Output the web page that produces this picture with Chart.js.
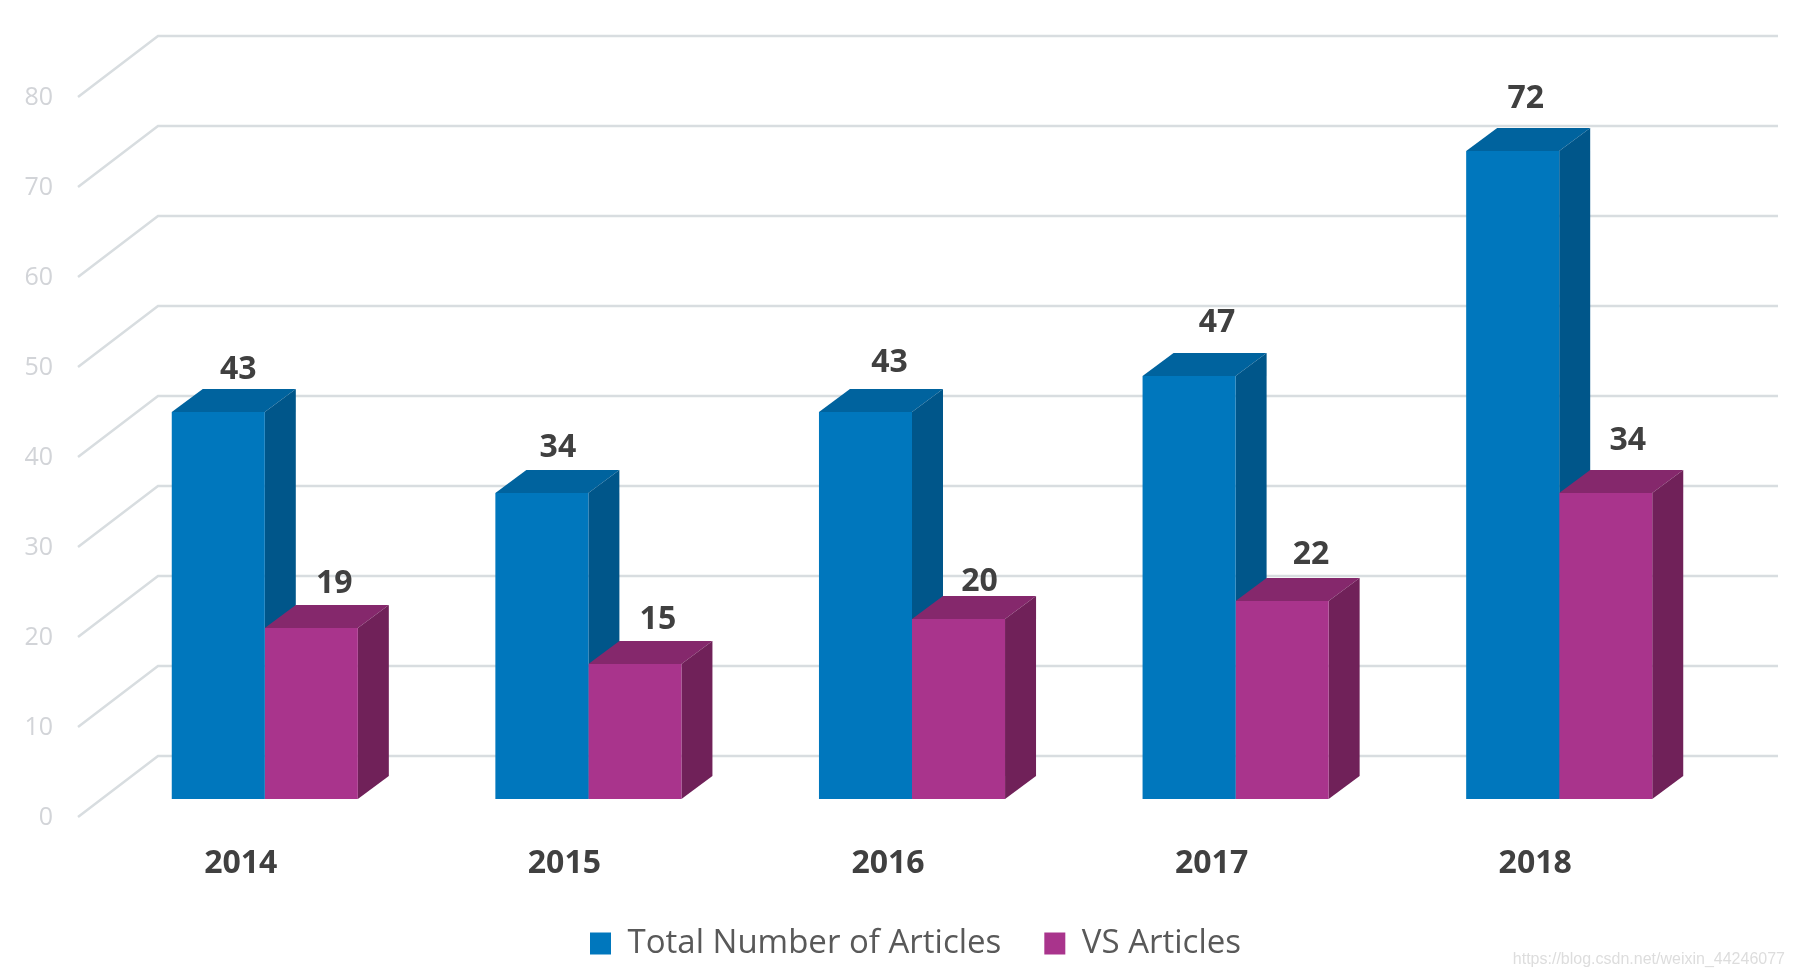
<!DOCTYPE html>
<html>
<head>
<meta charset="utf-8">
<title>Articles per year</title>
<script src="https://cdn.jsdelivr.net/npm/chart.js@4"></script>
<style>
    html, body { margin: 0; padding: 0; background: #fff; }
    canvas { display: block; }
</style>
</head>
<body>
<canvas id="articlesChart" width="1793" height="976"></canvas>
<script>
const years = ['2014', '2015', '2016', '2017', '2018'];
const totalArticles = [43, 34, 43, 47, 72];
const vsArticles = [19, 15, 20, 22, 34];

// hand placed value labels, relative to the top centre of each bar
const totalNudgeX = [20, 16, 24, 28, 13];
const totalNudgeY = [-42, -45, -49, -53, -52];
const vsNudgeX = [23, 23, 21, 29, 22];
const vsNudgeY = [-44, -44, -37, -46, -52];

const depthX = 31;
const depthY = 23;
const faces = [
    { top: '#00639E', side: '#00568A' },
    { top: '#85286C', side: '#702159' }
];

function face(ctx, points, color) {
    ctx.fillStyle = color;
    ctx.beginPath();
    points.forEach((p, i) => i ? ctx.lineTo(p[0], p[1]) : ctx.moveTo(p[0], p[1]));
    ctx.closePath();
    ctx.fill();
}

const wallGrid = {
    id: 'wallGrid',
    beforeDatasetsDraw(chart) {
        const ctx = chart.ctx;
        const y = chart.scales.y;
        const area = chart.chartArea;
        ctx.save();
        y.ticks.forEach(t => {
            const py = y.getPixelForValue(t.value);
            ctx.strokeStyle = '#D8DDE0';
            ctx.lineWidth = 2.5;
            ctx.beginPath();
            ctx.moveTo(area.left - 25, py + 18);
            ctx.lineTo(area.left + 55, py - 43);
            ctx.lineTo(area.right + 57, py - 43);
            ctx.stroke();
        });
        ctx.restore();
    }
};

const bars3d = {
    id: 'bars3d',
    beforeDatasetsDraw(chart) {
        const ctx = chart.ctx;
        years.forEach((year, i) => {
            faces.forEach((f, d) => {
                const bar = chart.getDatasetMeta(d).data[i];
                const l = bar.x - bar.width / 2;
                const r = bar.x + bar.width / 2;
                face(ctx, [[l, bar.y], [l + depthX, bar.y - depthY], [r + depthX, bar.y - depthY], [r, bar.y]], f.top);
                face(ctx, [[r, bar.y], [r + depthX, bar.y - depthY], [r + depthX, bar.base - depthY], [r, bar.base]], f.side);
            });
        });
    }
};

const valueLabels = {
    id: 'valueLabels',
    afterDatasetsDraw(chart) {
        const ctx = chart.ctx;
        ctx.save();
        ctx.font = 'bold 32px "Open Sans"';
        ctx.fillStyle = '#404040';
        ctx.textAlign = 'center';
        ctx.textBaseline = 'middle';
        [[totalArticles, totalNudgeX, totalNudgeY], [vsArticles, vsNudgeX, vsNudgeY]].forEach((s, d) => {
            chart.getDatasetMeta(d).data.forEach((bar, i) => {
                ctx.fillText(s[0][i], bar.x + s[1][i], bar.y + s[2][i]);
            });
        });
        ctx.restore();
    }
};

// legend sits further right than chart.js would put it
const legendShift = {
    id: 'legendShift',
    afterLayout(chart) {
        const lg = chart.legend;
        lg.left += 55;
        lg.right += 55;
        lg.top -= 6;
        lg.bottom -= 6;
    }
};

const watermark = {
    id: 'watermark',
    afterDraw(chart) {
        const ctx = chart.ctx;
        ctx.save();
        ctx.font = '16px "Liberation Sans"';
        ctx.fillStyle = '#DDDDDD';
        ctx.textAlign = 'right';
        ctx.textBaseline = 'middle';
        ctx.fillText('https://blog.csdn.net/weixin_44246077', 1785, 960);
        ctx.restore();
    }
};

new Chart(document.getElementById('articlesChart').getContext('2d'), {
    type: 'bar',
    data: {
        labels: years,
        datasets: [
            { label: 'Total Number of Articles', data: totalArticles, backgroundColor: '#0077BD' },
            { label: 'VS Articles', data: vsArticles, backgroundColor: '#A9348C' }
        ]
    },
    options: {
        responsive: false,
        animation: false,
        layout: { padding: { top: 79, right: 72, bottom: 0, left: 0 } },
        datasets: { bar: { categoryPercentage: 0.575, barPercentage: 1 } },
        scales: {
            x: {
                afterFit(s) { s.height = 91; },
                grid: { display: false, drawTicks: false },
                border: { display: false },
                ticks: {
                    padding: 46,
                    labelOffset: -24,
                    maxRotation: 0,
                    autoSkip: false,
                    color: '#404040',
                    font: { family: '"Open Sans"', size: 32, weight: 'bold' }
                }
            },
            y: {
                min: 0,
                max: 80,
                afterFit(s) { s.width = 103; },
                grid: { display: false, drawTicks: false },
                border: { display: false },
                ticks: {
                    stepSize: 10,
                    padding: 50,
                    labelOffset: 19,
                    color: '#D2D4D8',
                    font: { family: '"Open Sans"', size: 25 }
                }
            }
        },
        plugins: {
            tooltip: { enabled: false },
            legend: {
                position: 'bottom',
                labels: {
                    boxWidth: 21,
                    boxHeight: 22,
                    padding: 43,
                    color: '#595959',
                    font: { family: '"Open Sans"', size: 33 }
                }
            }
        }
    },
    plugins: [wallGrid, bars3d, valueLabels, legendShift, watermark]
});
</script>
</body>
</html>
